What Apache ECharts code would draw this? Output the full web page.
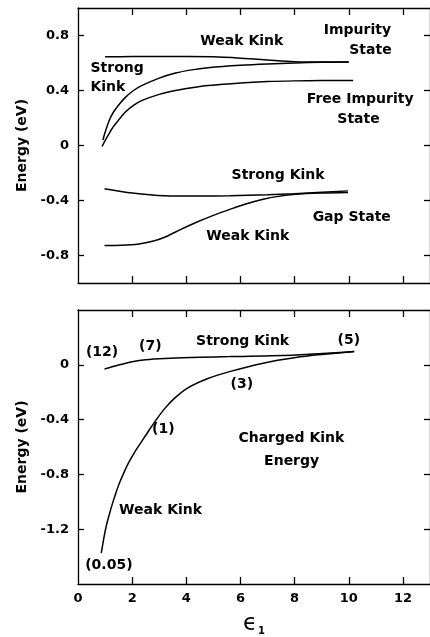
<!DOCTYPE html>
<html>
<head>
<meta charset="utf-8">
<script src="https://cdn.jsdelivr.net/npm/echarts@6/dist/echarts.min.js"></script>
<style>html,body{margin:0;padding:0;background:#fff;}#c{width:430px;height:637px;}</style>
</head>
<body>
<div id="c"></div>
<script>
// ---- data ----
const xTickLabels = [0, 2, 4, 6, 8, 10, 12];
const topYTicks = [-0.8, -0.4, 0, 0.4, 0.8];
const botYTicks = [-1.2, -0.8, -0.4, 0];

// top panel: impurity state, weak kink
const impWeak = [[1.0,0.645],[2,0.647],[3,0.648],[4,0.648],[5,0.645],[6,0.635],[7,0.622],[8,0.61],[9,0.607],[10,0.607]];
// top panel: impurity state, strong kink
const impStrong = [[0.92,0.04],[1.0,0.095],[1.16,0.185],[1.3,0.24],[1.5,0.295],[1.76,0.352],[2.05,0.4],[2.37,0.437],[3,0.49],[3.6,0.527],[4.2,0.55],[4.8,0.565],[6,0.583],[7,0.593],[8,0.6],[9,0.605],[10,0.607]];
// top panel: free impurity state
const freeImp = [[0.89,-0.007],[1.0,0.035],[1.16,0.09],[1.3,0.135],[1.5,0.185],[1.76,0.245],[2.05,0.292],[2.37,0.328],[3,0.372],[3.6,0.4],[4.2,0.42],[4.8,0.436],[6,0.455],[7,0.465],[8,0.47],[9,0.472],[10.16,0.473]];
// top panel: gap state, strong kink
const gapStrong = [[0.98,-0.314],[2,-0.345],[3.2,-0.365],[4.5,-0.368],[5.6,-0.366],[7,-0.358],[8,-0.35],[9,-0.34],[9.97,-0.33]];
// top panel: gap state, weak kink
const gapWeak = [[0.98,-0.728],[1.6,-0.726],[2.25,-0.716],[2.75,-0.697],[3.2,-0.667],[3.8,-0.61],[4.42,-0.555],[5,-0.508],[5.63,-0.463],[6.2,-0.425],[6.84,-0.391],[7.4,-0.37],[8.04,-0.355],[9,-0.346],[9.97,-0.342]];

// bottom panel: charged kink energy, strong kink
const chStrong = [[0.98,-0.031],[1.5,-0.002],[2,0.022],[2.5,0.037],[3.2,0.046],[4.5,0.055],[5.6,0.06],[8.04,0.072],[10.2,0.097]];
// bottom panel: charged kink energy, weak kink
const chWeak = [[0.86,-1.374],[0.95,-1.27],[1.04,-1.18],[1.16,-1.09],[1.28,-1.008],[1.4,-0.935],[1.52,-0.868],[1.7,-0.785],[1.88,-0.711],[2.1,-0.635],[2.37,-0.554],[2.6,-0.485],[2.86,-0.409],[3.2,-0.32],[3.58,-0.241],[4.06,-0.168],[4.8,-0.1],[5.63,-0.048],[6.84,0.012],[8.04,0.053],[9,0.075],[10.2,0.097]];

// annotations [x, y, text, align]
const topNotes = [
  [6.05,0.757,'Weak Kink','center'],
  [10.32,0.839,'Impurity','center'],
  [10.8,0.695,'State','center'],
  [0.46,0.558,'Strong','left'],
  [0.46,0.421,'Kink','left'],
  [10.42,0.337,'Free Impurity','center'],
  [10.36,0.192,'State','center'],
  [7.39,-0.216,'Strong Kink','center'],
  [10.11,-0.521,'Gap State','center'],
  [6.27,-0.658,'Weak Kink','center']
];
const botNotes = [
  [0.89,0.09,'(12)','center'],
  [2.67,0.133,'(7)','center'],
  [6.08,0.169,'Strong Kink','center'],
  [10.0,0.181,'(5)','center'],
  [6.05,-0.14,'(3)','center'],
  [3.15,-0.474,'(1)','center'],
  [7.88,-0.54,'Charged Kink','center'],
  [7.89,-0.704,'Energy','center'],
  [3.05,-1.06,'Weak Kink','center'],
  [1.14,-1.465,'(0.05)','center']
];

// ---- chart ----
const FONT = 'DejaVu Sans';
const INK = '#000';
const lineStyleAx = {color:INK, width:1.3};
function fmt(v){ return Math.abs(v) < 1e-9 ? '0' : (v % 1 === 0 ? String(v) : v.toFixed(1)); }

function xAx(grid, pos, labels){
  return {
    type:'value', gridIndex:grid, position:pos, min:0, max:13,
    axisLine:{show:true, onZero:false, lineStyle:lineStyleAx},
    axisTick:{show:true, inside:true, length:7, customValues:xTickLabels.filter(v=>v>0), lineStyle:lineStyleAx},
    axisLabel:{show:labels, customValues:xTickLabels, formatter:fmt, margin:8, color:INK, fontFamily:FONT, fontWeight:'bold', fontSize:13},
    splitLine:{show:false},
    name: labels ? '{e|\u03F5}{s|1}' : '',
    nameLocation:'middle', nameGap:29,
    nameTextStyle:{rich:{e:{fontSize:23, fontFamily:FONT, color:INK}, s:{fontSize:10, fontFamily:FONT, fontWeight:'bold', color:INK, verticalAlign:'bottom', padding:[9,0,0,1]}}}
  };
}
function yAx(grid, pos, min, max, ticks, labels){
  return {
    type:'value', gridIndex:grid, position:pos, min:min, max:max,
    axisLine:{show:true, onZero:false, lineStyle:lineStyleAx},
    axisTick:{show:true, inside:true, length:6, customValues:ticks, lineStyle:lineStyleAx},
    axisLabel:{show:labels, customValues:ticks, formatter:fmt, margin:9, color:INK, fontFamily:FONT, fontWeight:'bold', fontSize:13},
    splitLine:{show:false},
    name: labels ? 'Energy (eV)' : '',
    nameLocation:'middle', nameGap:45, nameRotate:90,
    nameTextStyle:{fontFamily:FONT, fontWeight:'bold', fontSize:14, color:INK}
  };
}
function curve(data, xi, yi){
  return {type:'line', data:data, xAxisIndex:xi, yAxisIndex:yi, smooth:0.3, symbol:'none',
    lineStyle:{color:INK, width:1.5}, silent:true, animation:false};
}
function notes(arr, xi, yi){
  return {type:'scatter', xAxisIndex:xi, yAxisIndex:yi, symbolSize:0, silent:true, animation:false, z:10,
    itemStyle:{color:'#fff', opacity:1},
    data: arr.map(n=>({value:[n[0],n[1]], label:{align:n[3]}, name:n[2]})),
    label:{show:true, position:'inside', opacity:1, textBorderWidth:0, formatter:p=>p.name, color:INK, fontFamily:FONT, fontWeight:'bold', fontSize:14}
  };
}

const chart = echarts.init(document.getElementById('c'), null, {renderer:'canvas'});
chart.setOption({
  backgroundColor:'#fff',
  animation:false,
  grid:[
    {left:78, top:8, width:359, height:275},
    {left:78, top:310, width:359, height:277}
  ],
  xAxis:[xAx(0,'bottom',false), xAx(0,'top',false), xAx(1,'bottom',true), xAx(1,'top',false)],
  yAxis:[yAx(0,'left',-1,1,topYTicks,true), yAx(0,'right',-1,1,topYTicks,false),
         yAx(1,'left',-1.6,0.4,botYTicks,true), yAx(1,'right',-1.6,0.4,botYTicks,false)],
  series:[
    curve(impWeak,0,0), curve(impStrong,0,0), curve(freeImp,0,0), curve(gapStrong,0,0), curve(gapWeak,0,0),
    curve(chStrong,2,2), curve(chWeak,2,2),
    notes(topNotes,0,0), notes(botNotes,2,2)
  ]
});
</script>
</body>
</html>
